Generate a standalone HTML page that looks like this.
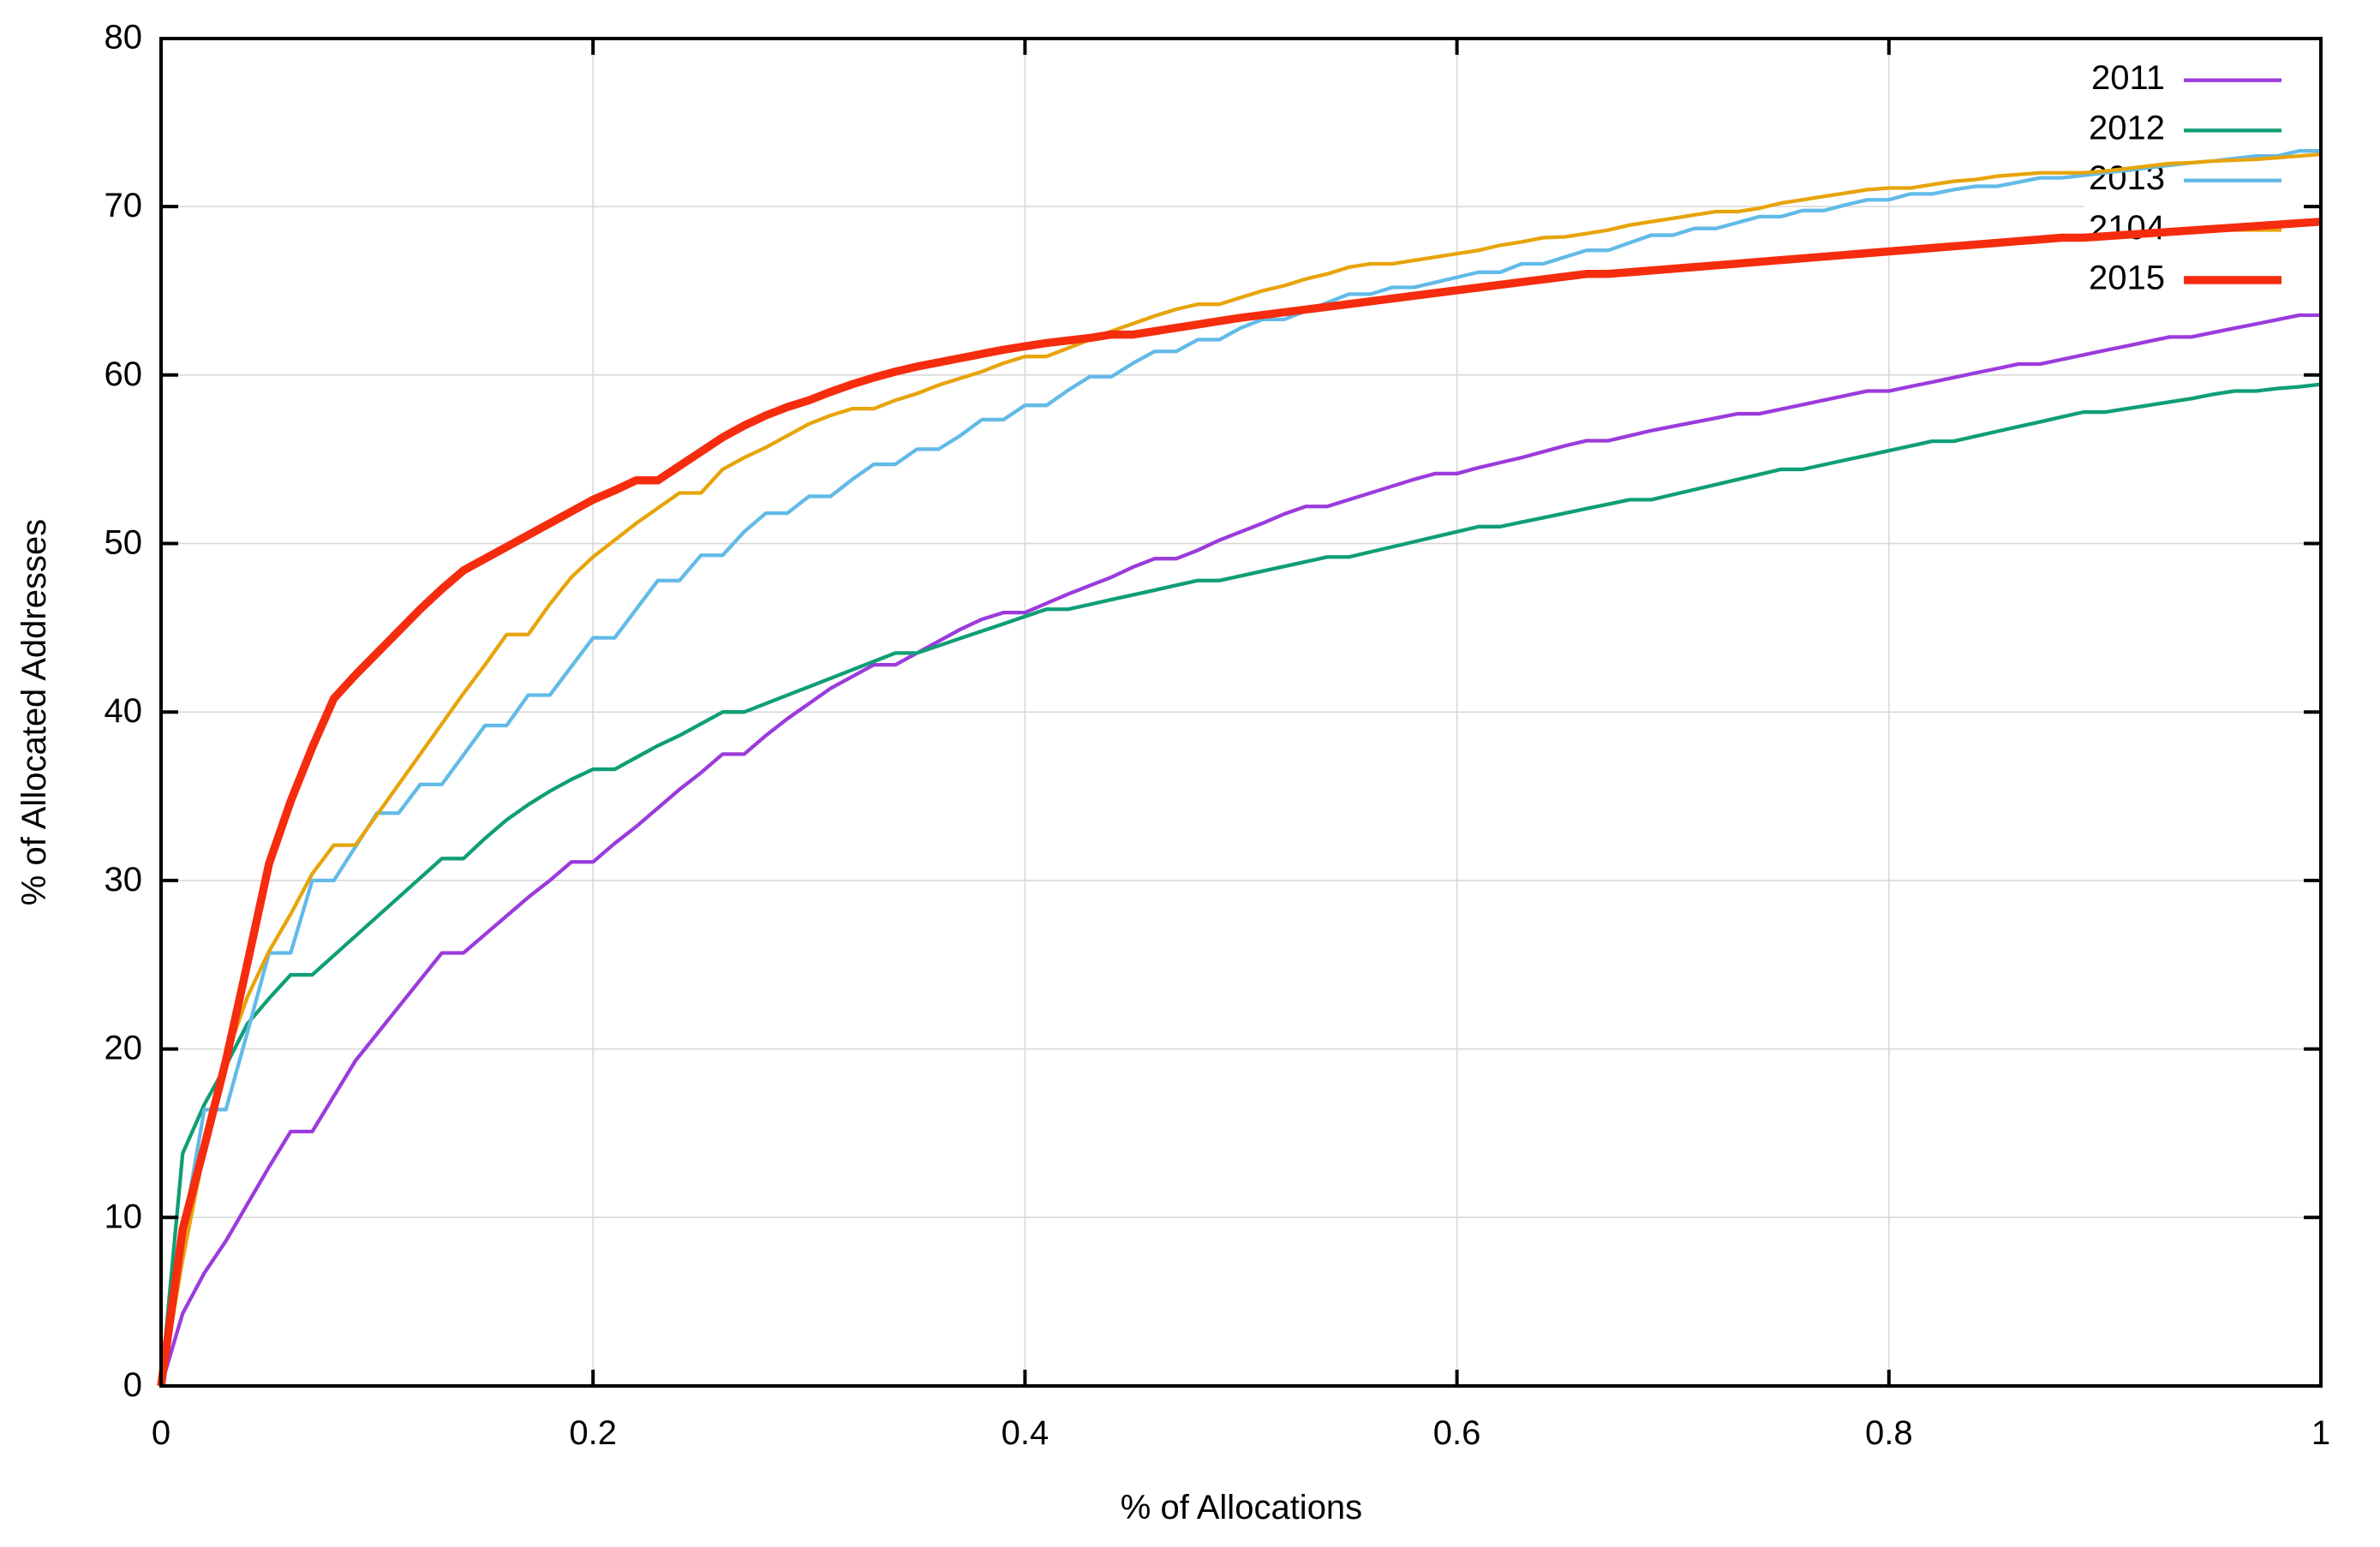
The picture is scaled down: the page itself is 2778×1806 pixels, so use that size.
<!DOCTYPE html>
<html>
<head>
<meta charset="utf-8">
<style>
html,body{margin:0;padding:0;background:#fff;}
svg{display:block;}
text{font-family:"Liberation Sans",Arial,Helvetica,sans-serif;font-size:40px;fill:#000;}
</style>
</head>
<body>
<svg width="2778" height="1806" viewBox="0 0 2778 1806" xmlns="http://www.w3.org/2000/svg">
<rect x="0" y="0" width="2778" height="1806" fill="#fff"/>

<!-- grid -->
<g stroke="#d6d6d6" stroke-width="1.5">
  <line x1="188" y1="1421.3" x2="2709" y2="1421.3"/>
  <line x1="188" y1="1224.6" x2="2709" y2="1224.6"/>
  <line x1="188" y1="1027.9" x2="2709" y2="1027.9"/>
  <line x1="188" y1="831.2" x2="2709" y2="831.2"/>
  <line x1="188" y1="634.5" x2="2709" y2="634.5"/>
  <line x1="188" y1="437.8" x2="2709" y2="437.8"/>
  <line x1="188" y1="241.1" x2="2709" y2="241.1"/>
  <line x1="692.2" y1="45" x2="692.2" y2="1618"/>
  <line x1="1196.4" y1="45" x2="1196.4" y2="1618"/>
  <line x1="1700.6" y1="45" x2="1700.6" y2="1618"/>
  <line x1="2204.8" y1="45" x2="2204.8" y2="1618"/>
</g>
<!-- key background (hides grid) -->
<rect x="2432" y="58" width="274" height="300" fill="#fff"/>

<!-- y tick labels -->
<g text-anchor="end">
  <text x="166" y="1630">0</text>
  <text x="166" y="1433.3">10</text>
  <text x="166" y="1236.6">20</text>
  <text x="166" y="1039.9">30</text>
  <text x="166" y="843.2">40</text>
  <text x="166" y="646.5">50</text>
  <text x="166" y="449.8">60</text>
  <text x="166" y="253.1">70</text>
  <text x="166" y="56.4">80</text>
</g>
<!-- x tick labels -->
<g text-anchor="middle">
  <text x="188" y="1686">0</text>
  <text x="692.2" y="1686">0.2</text>
  <text x="1196.4" y="1686">0.4</text>
  <text x="1700.6" y="1686">0.6</text>
  <text x="2204.8" y="1686">0.8</text>
  <text x="2709" y="1686">1</text>
</g>
<!-- axis labels -->
<text x="1449" y="1773" text-anchor="middle">% of Allocations</text>
<text transform="translate(53,831.5) rotate(-90)" text-anchor="middle">% of Allocated Addresses</text>

<!-- legend text -->
<g text-anchor="end">
  <text x="2527" y="104">2011</text>
  <text x="2527" y="162.5">2012</text>
  <text x="2527" y="220.8">2013</text>
  <text x="2527" y="279">2104</text>
  <text x="2527" y="337.3">2015</text>
</g>

<!-- series -->
<g fill="none" stroke-linejoin="round">
  <line x1="2549" y1="93.7" x2="2663" y2="93.7" stroke="#9b3bdc" stroke-width="4.3"/>
  <g transform="translate(188,1618) scale(25.21,-19.67)">
  <polyline vector-effect="non-scaling-stroke" stroke="#9b3bdc" stroke-width="4.3" points="0,0 1,4.3 2,6.7 3,8.6 4,10.8 5,13.0 6,15.1 7,15.1 8,17.2 9,19.3 10,20.9 11,22.5 12,24.1 13,25.7 14,25.7 15,26.8 16,27.9 17,29.0 18,30.0 19,31.1 20,31.1 21,32.2 22,33.2 23,34.3 24,35.4 25,36.4 26,37.5 27,37.5 28,38.6 29,39.6 30,40.5 31,41.4 32,42.1 33,42.8 34,42.8 35,43.5 36,44.2 37,44.9 38,45.5 39,45.9 40,45.9 41,46.45 42,47.0 43,47.5 44,48.0 45,48.6 46,49.1 47,49.1 48,49.6 49,50.2 50,50.7 51,51.2 52,51.75 53,52.2 54,52.2 55,52.6 56,53.0 57,53.4 58,53.8 59,54.15 60,54.15 61,54.5 62,54.8 63,55.1 64,55.45 65,55.8 66,56.1 67,56.1 68,56.4 69,56.7 70,56.95 71,57.2 72,57.45 73,57.7 74,57.7 75,57.97 76,58.24 77,58.51 78,58.78 79,59.05 80,59.05 81,59.32 82,59.58 83,59.85 84,60.12 85,60.38 86,60.65 87,60.65 88,60.92 89,61.19 90,61.46 91,61.72 92,61.99 93,62.26 94,62.26 95,62.52 96,62.78 97,63.03 98,63.29 99,63.55 100,63.55"/>
  </g>

  <line x1="2549" y1="152.3" x2="2663" y2="152.3" stroke="#0f9e76" stroke-width="4.3"/>
  <g transform="translate(188,1618) scale(25.21,-19.67)">
  <polyline vector-effect="non-scaling-stroke" stroke="#0f9e76" stroke-width="4.3" points="0,0 1,13.8 2,16.7 3,19.0 4,21.5 5,23.0 6,24.4 7,24.4 8,25.55 9,26.7 10,27.85 11,29.0 12,30.15 13,31.3 14,31.3 15,32.5 16,33.6 17,34.5 18,35.3 19,36.0 20,36.6 21,36.6 22,37.3 23,38.0 24,38.6 25,39.3 26,40.0 27,40.0 28,40.5 29,41.0 30,41.5 31,42.0 32,42.5 33,43.0 34,43.5 35,43.5 36,43.93 37,44.37 38,44.8 39,45.23 40,45.67 41,46.1 42,46.1 43,46.38 44,46.67 45,46.95 46,47.23 47,47.52 48,47.8 49,47.8 50,48.08 51,48.36 52,48.64 53,48.92 54,49.2 55,49.2 56,49.5 57,49.8 58,50.1 59,50.4 60,50.7 61,51.0 62,51.0 63,51.27 64,51.53 65,51.8 66,52.07 67,52.33 68,52.6 69,52.6 70,52.9 71,53.2 72,53.5 73,53.8 74,54.1 75,54.4 76,54.4 77,54.68 78,54.96 79,55.23 80,55.51 81,55.79 82,56.07 83,56.07 84,56.36 85,56.65 86,56.94 87,57.22 88,57.51 89,57.8 90,57.8 91,58.0 92,58.2 93,58.4 94,58.6 95,58.85 96,59.05 97,59.05 98,59.2 99,59.3 100,59.45"/>
  </g>

  <line x1="2549" y1="210.7" x2="2663" y2="210.7" stroke="#62bae8" stroke-width="4.3"/>
  <g transform="translate(188,1618) scale(25.21,-19.67)">
  <polyline vector-effect="non-scaling-stroke" stroke="#62bae8" stroke-width="4.3" points="0,0 1,9 2,16.4 3,16.4 4,21.0 5,25.7 6,25.7 7,30.0 8,30.0 9,32.0 10,34.0 11,34.0 12,35.7 13,35.7 14,37.45 15,39.2 16,39.2 17,41.0 18,41.0 19,42.7 20,44.4 21,44.4 22,46.1 23,47.8 24,47.8 25,49.3 26,49.3 27,50.7 28,51.8 29,51.8 30,52.8 31,52.8 32,53.8 33,54.7 34,54.7 35,55.6 36,55.6 37,56.4 38,57.35 39,57.35 40,58.2 41,58.2 42,59.1 43,59.9 44,59.9 45,60.7 46,61.4 47,61.4 48,62.1 49,62.1 50,62.8 51,63.3 52,63.3 53,63.8 54,64.3 55,64.8 56,64.8 57,65.2 58,65.2 59,65.5 60,65.8 61,66.1 62,66.1 63,66.6 64,66.6 65,67.0 66,67.4 67,67.4 68,67.85 69,68.3 70,68.3 71,68.7 72,68.7 73,69.05 74,69.4 75,69.4 76,69.76 77,69.76 78,70.1 79,70.4 80,70.4 81,70.75 82,70.75 83,71.0 84,71.2 85,71.2 86,71.45 87,71.7 88,71.7 89,71.85 90,72.0 91,72.15 92,72.3 93,72.45 94,72.6 95,72.7 96,72.85 97,73.0 98,73.0 99,73.3 100,73.3"/>
  </g>

  <line x1="2549" y1="268.5" x2="2663" y2="268.5" stroke="#e7a40a" stroke-width="4.3"/>
  <g transform="translate(188,1618) scale(25.21,-19.67)">
  <polyline vector-effect="non-scaling-stroke" stroke="#e7a40a" stroke-width="4.3" points="0,0 1,7.5 2,14.0 3,19.5 4,23.1 5,25.8 6,28.0 7,30.4 8,32.1 9,32.1 10,33.9 11,35.7 12,37.5 13,39.3 14,41.1 15,42.8 16,44.6 17,44.6 18,46.4 19,48.0 20,49.2 21,50.2 22,51.2 23,52.1 24,53.0 25,53.0 26,54.4 27,55.1 28,55.7 29,56.4 30,57.1 31,57.6 32,58.0 33,58.0 34,58.5 35,58.9 36,59.4 37,59.8 38,60.2 39,60.7 40,61.1 41,61.1 42,61.6 43,62.1 44,62.6 45,63.05 46,63.5 47,63.9 48,64.2 49,64.2 50,64.6 51,65.0 52,65.3 53,65.7 54,66.0 55,66.4 56,66.6 57,66.6 58,66.8 59,67.0 60,67.2 61,67.4 62,67.7 63,67.9 64,68.15 65,68.2 66,68.4 67,68.6 68,68.9 69,69.1 70,69.3 71,69.5 72,69.7 73,69.7 74,69.9 75,70.2 76,70.4 77,70.6 78,70.8 79,71.0 80,71.1 81,71.1 82,71.3 83,71.5 84,71.6 85,71.8 86,71.9 87,72.0 88,72.0 89,72.0 90,72.1 91,72.25 92,72.4 93,72.55 94,72.6 95,72.7 96,72.75 97,72.8 98,72.9 99,73.0 100,73.1"/>
  </g>

  <line x1="2549" y1="327" x2="2663" y2="327" stroke="#f52c0e" stroke-width="9.5"/>
  <g transform="translate(188,1618) scale(25.21,-19.67)">
  <polyline vector-effect="non-scaling-stroke" stroke="#f52c0e" stroke-width="9.5" points="0,0 1,9.3 2,14.2 3,19.3 4,25.1 5,31.0 6,34.7 7,37.9 8,40.8 9,42.2 10,43.5 11,44.8 12,46.1 13,47.3 14,48.4 15,49.1 16,49.8 17,50.5 18,51.2 19,51.9 20,52.6 21,53.15 22,53.75 23,53.75 24,54.6 25,55.45 26,56.3 27,57.0 28,57.6 29,58.1 30,58.5 31,59.0 32,59.45 33,59.85 34,60.2 35,60.5 36,60.75 37,61.0 38,61.25 39,61.5 40,61.7 41,61.9 42,62.05 43,62.2 44,62.4 45,62.4 46,62.6 47,62.8 48,63.0 49,63.2 50,63.4 55,64.21 60,65.03 66,66.0 67,66.0 72,66.51 78,67.13 83,67.64 88,68.15 89,68.15 94,68.58 100,69.1"/>
  </g>
</g>

<!-- ticks -->
<g stroke="#000" stroke-width="4">
  <line x1="188" y1="1421.3" x2="208" y2="1421.3"/>
  <line x1="188" y1="1224.6" x2="208" y2="1224.6"/>
  <line x1="188" y1="1027.9" x2="208" y2="1027.9"/>
  <line x1="188" y1="831.2" x2="208" y2="831.2"/>
  <line x1="188" y1="634.5" x2="208" y2="634.5"/>
  <line x1="188" y1="437.8" x2="208" y2="437.8"/>
  <line x1="188" y1="241.1" x2="208" y2="241.1"/>
  <line x1="2709" y1="1421.3" x2="2689" y2="1421.3"/>
  <line x1="2709" y1="1224.6" x2="2689" y2="1224.6"/>
  <line x1="2709" y1="1027.9" x2="2689" y2="1027.9"/>
  <line x1="2709" y1="831.2" x2="2689" y2="831.2"/>
  <line x1="2709" y1="634.5" x2="2689" y2="634.5"/>
  <line x1="2709" y1="437.8" x2="2689" y2="437.8"/>
  <line x1="2709" y1="241.1" x2="2689" y2="241.1"/>
  <line x1="692.2" y1="1618" x2="692.2" y2="1599"/>
  <line x1="1196.4" y1="1618" x2="1196.4" y2="1599"/>
  <line x1="1700.6" y1="1618" x2="1700.6" y2="1599"/>
  <line x1="2204.8" y1="1618" x2="2204.8" y2="1599"/>
  <line x1="692.2" y1="45" x2="692.2" y2="64"/>
  <line x1="1196.4" y1="45" x2="1196.4" y2="64"/>
  <line x1="1700.6" y1="45" x2="1700.6" y2="64"/>
  <line x1="2204.8" y1="45" x2="2204.8" y2="64"/>
</g>
<!-- frame -->
<rect x="188" y="45" width="2521" height="1573" fill="none" stroke="#000" stroke-width="4"/>
</svg>
</body>
</html>
